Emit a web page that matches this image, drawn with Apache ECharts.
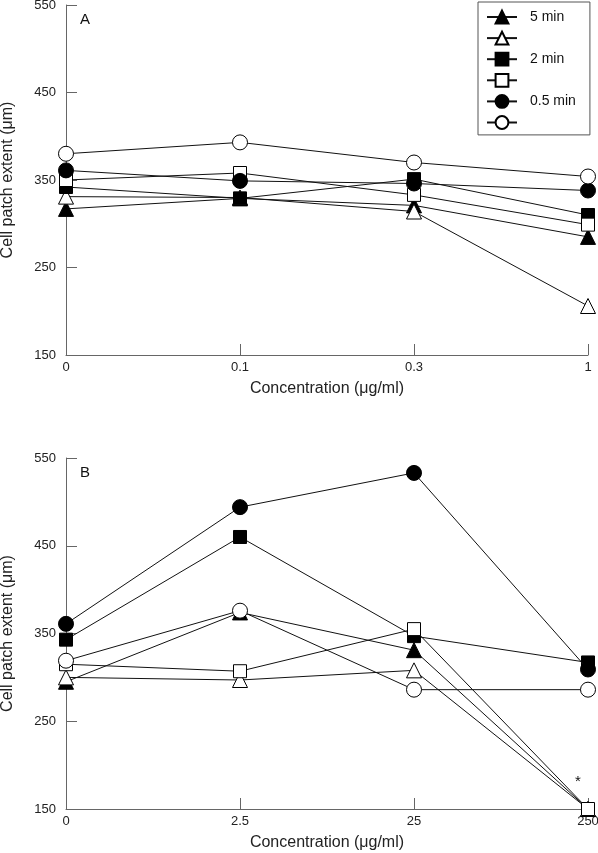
<!DOCTYPE html>
<html>
<head>
<meta charset="utf-8">
<script src="https://cdn.jsdelivr.net/npm/echarts@6/dist/echarts.min.js"></script>
<style>
html,body{margin:0;padding:0;background:#fff;}
#chart{width:598px;height:853px;}
</style>
</head>
<body>
<div id="chart"></div>
<script>
// ---- Data ----
const catA = ['0', '0.1', '0.3', '1'];
const catB = ['0', '2.5', '25', '250'];
const yTicks = [150, 250, 350, 450, 550];

const seriesNames = ['5 min', '5 min (open)', '2 min', '2 min (open)', '0.5 min', '0.5 min (open)'];
const legendLabels = ['5 min', '', '2 min', '', '0.5 min', ''];

// Panel A
const A_tri5 = [317, 329, 321, 285];
const A_triOpen = [331, 330, 314, 206];
const A_sq2 = [342, 329, 351, 310];
const A_sqOpen = [350, 358, 333, 299];
const A_circ05 = [361, 349, 346, 338];
const A_circOpen = [380, 393, 370, 354];

// Panel B
const B_tri5 = [295, 374, 331, 150];
const B_triOpen = [300, 297, 308, 150];
const B_sq2 = [343, 460, 347, 317];
const B_sqOpen = [315, 307, 355, 150];
const B_circ05 = [361, 494, 533, 309];
const B_circOpen = [319, 376, 286, 286];
const B_sqOpenMarks = ['', '', '', '*'];

const panelLetters = ['A', 'B'];
const xTitle = 'Concentration (\u03bcg/ml)';
const yTitle = 'Cell patch extent (\u03bcm)';

// ---- Chart ----
const FONT = 'Liberation Sans, Arial, Helvetica, sans-serif';
const AXIS_COLOR = '#666';
const shapes = [
  {symbol: 'triangle', filled: true, size: 15},
  {symbol: 'triangle', filled: false, size: 15},
  {symbol: 'rect', filled: true, size: 13},
  {symbol: 'rect', filled: false, size: 13},
  {symbol: 'circle', filled: true, size: 15},
  {symbol: 'circle', filled: false, size: 15}
];

function mk(idx, values, gridIdx, marks) {
  const s = shapes[idx];
  const data = values.map((v, i) => {
    if (marks && marks[i]) {
      return {value: v, label: {show: true, formatter: marks[i], position: 'top', distance: 5,
        offset: [-10, -8], color: '#111', fontSize: 15, fontFamily: FONT}};
    }
    return v;
  });
  return {
    name: seriesNames[idx],
    type: 'line',
    xAxisIndex: gridIdx,
    yAxisIndex: gridIdx,
    data: data,
    symbol: s.symbol,
    symbolSize: s.size,
    showAllSymbol: true,
    clip: false,
    animation: false,
    lineStyle: {color: '#111', width: 1},
    itemStyle: {color: s.filled ? '#000' : '#fff', borderColor: '#000', borderWidth: 1, opacity: 1},
    emphasis: {disabled: true},
    z: 2 + idx
  };
}

function xAxis(gridIdx, cats) {
  return {
    type: 'category', gridIndex: gridIdx, data: cats, boundaryGap: false,
    axisLine: {show: true, lineStyle: {color: AXIS_COLOR, width: 1}},
    axisTick: {show: true, inside: true, length: 11, interval: 0, lineStyle: {color: AXIS_COLOR}},
    axisLabel: {margin: 6, fontSize: 13, color: '#222', fontFamily: FONT, interval: 0},
    splitLine: {show: false},
    name: xTitle, nameLocation: 'middle', nameGap: 26,
    nameTextStyle: {fontSize: 16, color: '#222', fontFamily: FONT}
  };
}

function yAxis(gridIdx) {
  return {
    type: 'value', gridIndex: gridIdx, min: yTicks[0], max: yTicks[yTicks.length - 1], interval: 100,
    axisLine: {show: true, lineStyle: {color: AXIS_COLOR, width: 1}},
    axisTick: {show: true, inside: true, length: 11, lineStyle: {color: AXIS_COLOR}},
    axisLabel: {margin: 10, fontSize: 13, color: '#222', fontFamily: FONT},
    splitLine: {show: false},
    name: yTitle, nameLocation: 'middle', nameGap: 50, nameRotate: 90,
    nameTextStyle: {fontSize: 16, color: '#222', fontFamily: FONT}
  };
}

const chart = echarts.init(document.getElementById('chart'), null, {renderer: 'canvas'});
const option = {
  backgroundColor: '#fff',
  animation: false,
  textStyle: {fontFamily: FONT},
  grid: [
    {left: 66, top: 5, width: 522, height: 350, containLabel: false, outerBoundsMode: 'none'},
    {left: 66, top: 458, width: 522, height: 351, containLabel: false, outerBoundsMode: 'none'}
  ],
  xAxis: [xAxis(0, catA), xAxis(1, catB)],
  yAxis: [yAxis(0), yAxis(1)],
  legend: {
    data: seriesNames,
    orient: 'vertical',
    left: 478, top: 2,
    padding: [7, 14, 5, 8],
    itemWidth: 30, itemHeight: 16, itemGap: 5.7,
    borderColor: '#555', borderWidth: 1,
    selectedMode: false,
    formatter: function (name) { return legendLabels[seriesNames.indexOf(name)]; },
    textStyle: {fontSize: 14, color: '#111', fontFamily: FONT, padding: [0, 0, 0, 8], lineHeight: 16}
  },
  graphic: [
    {type: 'text', left: 80, top: 12, style: {text: panelLetters[0], fontSize: 15, fill: '#111', fontFamily: FONT}},
    {type: 'text', left: 80, top: 465, style: {text: panelLetters[1], fontSize: 15, fill: '#111', fontFamily: FONT}}
  ],
  series: [
    mk(0, A_tri5, 0), mk(1, A_triOpen, 0), mk(2, A_sq2, 0), mk(3, A_sqOpen, 0), mk(4, A_circ05, 0), mk(5, A_circOpen, 0),
    mk(0, B_tri5, 1), mk(1, B_triOpen, 1), mk(2, B_sq2, 1), mk(3, B_sqOpen, 1, B_sqOpenMarks), mk(4, B_circ05, 1), mk(5, B_circOpen, 1)
  ]
};
chart.setOption(option);
</script>
</body>
</html>
